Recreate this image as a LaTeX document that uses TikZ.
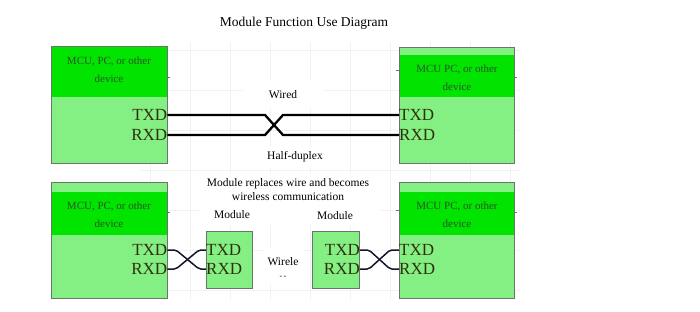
\documentclass[tikz,border=0pt]{standalone}
\usepackage{fontspec}
\setmainfont{Liberation Serif}
\definecolor{hdr}{HTML}{00E400}
\definecolor{bodyg}{HTML}{84F084}
\definecolor{bord}{HTML}{687868}
\definecolor{devtxt}{HTML}{2A522A}
\definecolor{pintxt}{HTML}{30300C}
\definecolor{wirec}{HTML}{151530}
\begin{document}
\begin{tikzpicture}[x=1pt,y=-1pt,
  devbox/.style={fill=bodyg, anchor=north west, inner sep=0pt},
  hdrbox/.style={fill=hdr, anchor=north west, inner sep=0pt},
  frame/.style={draw=bord, line width=1pt},
  devlabel/.style={text=devtxt, font=\fontsize{11}{18}\selectfont, align=center, inner sep=0pt},
  pinR/.style={text=pintxt, font=\fontsize{17}{17}\selectfont, anchor=east, inner sep=0pt},
  pinL/.style={text=pintxt, font=\fontsize{17}{17}\selectfont, anchor=west, inner sep=0pt},
  lbl/.style={font=\fontsize{11.5}{14}\selectfont, align=center, inner sep=0pt},
  thickwire/.style={line width=2.3pt, black},
  thinwire/.style={line width=1.5pt, wirec},
  tick/.style={line width=0.8pt, bord}]
\useasboundingbox[fill=white] (0,0) rectangle (700,312);
% faint grid
\foreach \gx in {150,190,...,510} \draw[black!5] (\gx,42) -- (\gx,300);
\foreach \gy in {50,90,...,290} \draw[black!5] (140,\gy) -- (520,\gy);
% white label areas
\fill[white] (243,80) rectangle (323,108);
\fill[white] (255,146) rectangle (340,168);
\fill[white] (200,174) rectangle (380,225);
\fill[white] (263,248) rectangle (304,284);

\node[font=\fontsize{13.5}{16}\selectfont, inner sep=0pt] (title) at (304,23) {Module Function Use Diagram};

% top-left device
\node[devbox, minimum width=116pt, minimum height=116pt] (L1) at (51,47) {};
\node[hdrbox, minimum width=116pt, minimum height=50pt] (L1h) at (51,47) {};
\path[frame] (L1.north west) rectangle (L1.south east);
\node[devlabel] (L1t) at (109,70) {MCU, PC, or other\\device};
\node[pinR] (L1tx) at (L1.east |- 0,115) {TXD};
\node[pinR] (L1rx) at (L1.east |- 0,135) {RXD};

% top-right device
\node[devbox, minimum width=115pt, minimum height=115pt] (R1) at (399,48) {};
\node[hdrbox, minimum width=115pt, minimum height=42pt] (R1h) at (399,55) {};
\path[frame] (R1.north west) rectangle (R1.south east);
\node[devlabel] (R1t) at (457,78) {MCU PC, or other\\device};
\node[pinL] (R1tx) at (R1.west |- 0,115) {TXD};
\node[pinL] (R1rx) at (R1.west |- 0,135) {RXD};

% bottom-left device
\node[devbox, minimum width=116pt, minimum height=115pt] (L2) at (51,183) {};
\node[hdrbox, minimum width=116pt, minimum height=43pt] (L2h) at (51,192) {};
\path[frame] (L2.north west) rectangle (L2.south east);
\node[devlabel] (L2t) at (109,214.5) {MCU, PC, or other\\device};
\node[pinR] (L2tx) at (L2.east |- 0,250) {TXD};
\node[pinR] (L2rx) at (L2.east |- 0,269) {RXD};

% bottom-right device
\node[devbox, minimum width=115pt, minimum height=115pt] (R2) at (399,183) {};
\node[hdrbox, minimum width=115pt, minimum height=43pt] (R2h) at (399,192) {};
\path[frame] (R2.north west) rectangle (R2.south east);
\node[devlabel] (R2t) at (457,214.5) {MCU PC, or other\\device};
\node[pinL] (R2tx) at (R2.west |- 0,250) {TXD};
\node[pinL] (R2rx) at (R2.west |- 0,269) {RXD};

% modules
\node[devbox, frame, minimum width=46pt, minimum height=57pt] (M1) at (206,231) {};
\node[pinL] (M1tx) at (M1.west |- 0,250) {TXD};
\node[pinL] (M1rx) at (M1.west |- 0,269) {RXD};
\node[devbox, frame, minimum width=47pt, minimum height=57pt] (M2) at (312,231) {};
\node[pinR] (M2tx) at (M2.east |- 0,250) {TXD};
\node[pinR] (M2rx) at (M2.east |- 0,269) {RXD};

% small ticks
\draw[tick] (167,77) -- (170,77);
\draw[tick] (396,70) -- (399,70);
\draw[tick] (514,77) -- (517,77);
\draw[tick] (167,212) -- (170,212);
\draw[tick] (396,210) -- (399,210);
\draw[tick] (514,212) -- (517,212);

% labels
\node[lbl] (wired) at (283,95) {Wired};
\node[lbl] (half) at (295,157) {Half-duplex};
\node[lbl] (repl) at (288,190) {Module replaces wire and becomes\\wireless communication};
\node[lbl] (mod1) at (232,215) {Module};
\node[lbl] (mod2) at (335,216) {Module};
\node[lbl] (wl) at (283,262) {Wirele};
\node[lbl, font=\fontsize{8}{8}\selectfont] (wl2) at (283,277) {-\,-};

% wires
\draw[thickwire] (L1tx.east) -- (265,115) -- (283,135) -- (R1rx.west);
\draw[thickwire] (L1rx.east) -- (265,135) -- (283,115) -- (R1tx.west);
\draw[thinwire, rounded corners=2pt] (L2tx.east) -- (176,250) -- (199,269) -- (M1rx.west);
\draw[thinwire, rounded corners=2pt] (L2rx.east) -- (176,269) -- (199,250) -- (M1tx.west);
\draw[thinwire, rounded corners=2pt] (M2tx.east) -- (369,250) -- (390,269) -- (R2rx.west);
\draw[thinwire, rounded corners=2pt] (M2rx.east) -- (369,269) -- (390,250) -- (R2tx.west);
\end{tikzpicture}
\end{document}
